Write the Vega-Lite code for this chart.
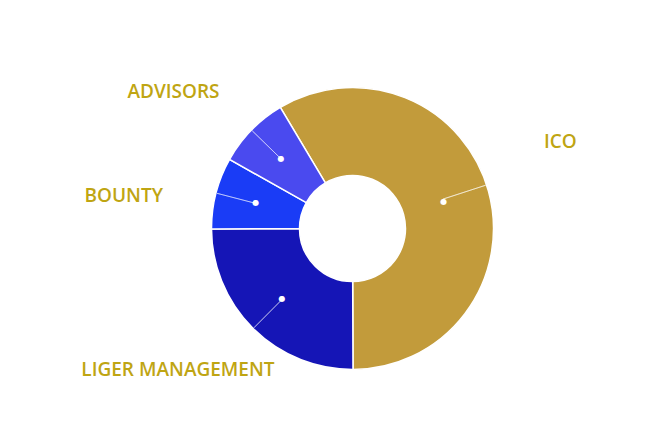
{
  "$schema": "https://vega.github.io/schema/vega-lite/v6.json",
  "width": 629,
  "height": 393,
  "autosize": {"type": "none"},
  "padding": {"left": 38, "top": 32, "right": 0, "bottom": 0},
  "background": "#ffffff",
  "view": {"stroke": null},
  "data": {
    "values": [
      {"category": "ICO", "value": 58.5, "rank": 1},
      {"category": "LIGER MANAGEMENT", "value": 25, "rank": 2},
      {"category": "BOUNTY", "value": 8.2, "rank": 3},
      {"category": "ADVISORS", "value": 8.3, "rank": 4}
    ]
  },
  "encoding": {
    "theta": {"field": "value", "type": "quantitative", "stack": true, "scale": {"range": [-0.5376, 5.7456]}},
    "order": {"field": "rank", "type": "quantitative"}
  },
  "layer": [
    {
      "mark": {"type": "arc", "outerRadius": 141, "innerRadius": 53, "stroke": "#ffffff", "strokeWidth": 1.5},
      "encoding": {
        "color": {
          "field": "category",
          "type": "nominal",
          "scale": {"domain": ["ICO", "LIGER MANAGEMENT", "BOUNTY", "ADVISORS"], "range": ["#C29B3B", "#1515B6", "#1A3CF6", "#4A4AEF"]},
          "legend": null
        }
      }
    },
    {
      "mark": {"type": "arc", "outerRadius": 140, "innerRadius": 100, "padAngle": 3, "fillOpacity": 0, "stroke": "#ffffff", "strokeWidth": 1},
      "encoding": {
        "strokeOpacity": {"condition": {"test": "datum.category === 'ICO'", "value": 0}, "value": 0.45}
      }
    },
    {
      "mark": {"type": "arc", "outerRadius": 140, "innerRadius": 95, "padAngle": 3, "fillOpacity": 0, "stroke": "#ffffff", "strokeWidth": 1},
      "encoding": {
        "theta": {"field": "value", "type": "quantitative", "stack": true, "scale": {"range": [1.2479, 1.2777]}},
        "strokeOpacity": {"condition": {"test": "datum.category === 'ICO'", "value": 0.5}, "value": 0}
      }
    },
    {
      "mark": {"type": "text", "radius": 100, "text": "●", "fontSize": 8, "color": "#ffffff", "align": "center", "baseline": "middle", "font": "DejaVu Sans"},
      "encoding": {
        "opacity": {"condition": {"test": "datum.category === 'ICO'", "value": 0}, "value": 1}
      }
    },
    {
      "mark": {"type": "text", "radius": 95, "thetaOffset": -0.014, "text": "●", "fontSize": 8, "color": "#ffffff", "align": "center", "baseline": "middle", "font": "DejaVu Sans"},
      "encoding": {
        "opacity": {"condition": {"test": "datum.category === 'ICO'", "value": 1}, "value": 0}
      }
    },
    {
      "mark": {"type": "text", "radius": 225, "thetaOffset": -0.122, "fontSize": 19, "fontWeight": 600, "font": "Open Sans", "color": "#BFA513", "align": "center", "baseline": "middle"},
      "encoding": {
        "text": {"field": "category"},
        "opacity": {"condition": {"test": "datum.category === 'ICO' || datum.category === 'ADVISORS'", "value": 1}, "value": 0}
      }
    },
    {
      "mark": {"type": "text", "radius": 231, "thetaOffset": -0.115, "fontSize": 19, "fontWeight": 600, "font": "Open Sans", "color": "#BFA513", "align": "center", "baseline": "middle"},
      "encoding": {
        "text": {"field": "category"},
        "opacity": {"condition": {"test": "datum.category === 'BOUNTY'", "value": 1}, "value": 0}
      }
    },
    {
      "mark": {"type": "text", "radius": 225, "thetaOffset": 0.106, "fontSize": 19, "fontWeight": 600, "font": "Open Sans", "color": "#BFA513", "align": "center", "baseline": "middle"},
      "encoding": {
        "text": {"field": "category"},
        "opacity": {"condition": {"test": "datum.category === 'LIGER MANAGEMENT'", "value": 1}, "value": 0}
      }
    }
  ],
  "resolve": {"scale": {"theta": "independent"}}
}
